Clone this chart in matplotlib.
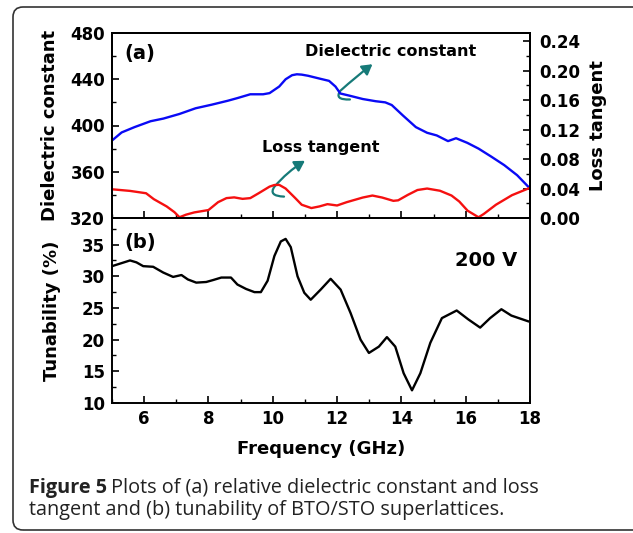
import numpy as np
import matplotlib
matplotlib.use("Agg")
import matplotlib.pyplot as plt
from matplotlib.patches import FancyArrowPatch, FancyBboxPatch
from matplotlib.path import Path
from matplotlib.ticker import MultipleLocator, FormatStrFormatter

# (a) dielectric constant, left axis
freq_eps = [5.0, 5.3, 5.7, 6.2, 6.6, 7.1, 7.6, 8.1, 8.6, 8.9, 9.3, 9.7, 9.9,
            10.2, 10.4, 10.6, 10.75, 10.9, 11.1, 11.45, 11.75, 11.95, 12.1, 12.4, 12.8,
            13.2, 13.5, 13.7, 14.05, 14.45, 14.8, 15.1, 15.45, 15.7, 16.05,
            16.4, 16.8, 17.2, 17.6, 18.0]
eps = [387, 394, 398.6, 403.7, 406, 410, 414.9, 418, 421.4, 423.7, 427, 427,
       428, 433.7, 440.0, 443.5, 444.3, 444.0, 443, 440.6, 438.6, 433.7, 427.7, 425.7, 422.9,
       421, 420, 417.7, 408.6, 398.6, 393.7, 391.4, 386.5, 389, 385,
       380, 373, 365.7, 357, 345.5]

# (a) loss tangent, right axis
freq_tan = [5.0, 5.56, 6.06, 6.3, 6.7, 6.94, 7.1, 7.3, 7.56, 8.0, 8.3, 8.56,
            8.8, 9.06, 9.3, 9.56, 9.9, 10.05, 10.2, 10.4, 10.7, 10.9, 11.2, 11.45,
            11.7, 12.0, 12.3, 12.8, 13.1, 13.4, 13.75, 13.9, 14.2, 14.5, 14.8,
            15.2, 15.56, 15.8, 16.06, 16.4, 16.56, 16.94, 17.44, 18.0]
loss = [0.039, 0.0368, 0.0336, 0.0256, 0.0157, 0.008, 0.001, 0.0045, 0.0076,
        0.0108, 0.0215, 0.027, 0.028, 0.026, 0.027, 0.0336, 0.0426, 0.0448, 0.045,
        0.040, 0.027, 0.018, 0.0135, 0.0157, 0.0188, 0.017, 0.0215, 0.0278,
        0.0305, 0.0278, 0.0233, 0.024, 0.0314, 0.038, 0.040, 0.037, 0.0305,
        0.0224, 0.0099, 0.001, 0.0054, 0.018, 0.031, 0.041]

# (b) tunability at 200 V
freq_tun = [5.0, 5.25, 5.56, 5.76, 5.97, 6.28, 6.59, 6.9, 7.16, 7.36, 7.62,
            7.93, 8.14, 8.4, 8.7, 8.9, 9.17, 9.43, 9.63, 9.84, 10.05, 10.25, 10.4,
            10.56, 10.77, 10.98, 11.18, 11.49, 11.8, 12.11, 12.42, 12.73,
            12.99, 13.3, 13.55, 13.81, 14.07, 14.33, 14.59, 14.9, 15.26,
            15.72, 16.08, 16.45, 16.76, 17.11, 17.42, 17.94]
tun = [31.6, 32.0, 32.5, 32.2, 31.6, 31.5, 30.6, 29.9, 30.2, 29.5, 29.0,
       29.1, 29.4, 29.8, 29.8, 28.7, 28.0, 27.5, 27.5, 29.3, 33.2, 35.5, 35.9,
       34.6, 30.0, 27.4, 26.3, 27.9, 29.6, 27.9, 24.2, 20.0,
       17.9, 18.9, 20.4, 18.9, 14.7, 12.0, 14.7, 19.5, 23.4,
       24.6, 23.2, 21.9, 23.4, 24.8, 23.8, 22.9]

plt.rcParams['font.family'] = ['DejaVu Sans']
plt.rcParams['font.weight'] = 'bold'
plt.rcParams['axes.linewidth'] = 1.4

fig = plt.figure(figsize=(6.33, 5.33), dpi=100)
W, H = 633, 533

def frac(l, t, r, b):
    return [l / W, 1 - b / H, (r - l) / W, (b - t) / H]

ax_a = fig.add_axes(frac(112, 33, 530, 218))
ax_b = fig.add_axes(frac(112, 218, 530, 403), sharex=ax_a)
ax_r = ax_a.twinx()

ax_a.plot(freq_eps, eps, color='#0a0af5', lw=1.7)
ax_r.plot(freq_tan, loss, color='#f51010', lw=1.7)
ax_b.plot(freq_tun, tun, color='black', lw=1.7)

ax_a.set_xlim(5, 18)
ax_a.set_ylim(320, 480)
ax_r.set_ylim(0, 0.2512)
ax_b.set_ylim(10, 39.2)

ax_a.yaxis.set_major_locator(MultipleLocator(40))
ax_a.yaxis.set_minor_locator(MultipleLocator(20))
ax_r.yaxis.set_major_locator(MultipleLocator(0.04))
ax_r.yaxis.set_minor_locator(MultipleLocator(0.02))
ax_r.yaxis.set_major_formatter(FormatStrFormatter('%.2f'))
ax_b.yaxis.set_major_locator(MultipleLocator(5))
ax_b.yaxis.set_minor_locator(MultipleLocator(2.5))
ax_b.xaxis.set_major_locator(MultipleLocator(2))
ax_b.xaxis.set_minor_locator(MultipleLocator(1))

for ax in (ax_a, ax_b, ax_r):
    ax.tick_params(which='major', direction='in', length=5, width=1.2,
                   labelsize=12, pad=5)
    ax.tick_params(which='minor', direction='in', length=3, width=1.0)
ax_r.tick_params(axis='y', which='major', pad=7)
ax_a.tick_params(axis='x', which='both', labelbottom=False)
ax_b.tick_params(axis='x', which='major', pad=5)

ax_a.set_ylabel('Dielectric constant', fontsize=13, fontweight='bold', labelpad=8)
ax_r.set_ylabel('Loss tangent', fontsize=13, fontweight='bold', labelpad=6)
ax_b.set_ylabel('Tunability (%)', fontsize=13, fontweight='bold', labelpad=15)
ax_b.set_xlabel('Frequency (GHz)', fontsize=13, fontweight='bold', labelpad=9)

ax_a.text(0.03, 0.89, '(a)', transform=ax_a.transAxes, fontsize=14,
          fontweight='bold', va='center')
ax_b.text(0.03, 0.865, '(b)', transform=ax_b.transAxes, fontsize=14,
          fontweight='bold', va='center')
ax_b.text(0.894, 0.77, '200 V', transform=ax_b.transAxes, fontsize=14,
          fontweight='bold', ha='center', va='center')

ax_a.text(13.65, 463.6, 'Dielectric constant', fontsize=11.5, fontweight='bold',
          ha='center', va='center')
ax_a.text(11.5, 381.4, 'Loss tangent', fontsize=11.5, fontweight='bold',
          ha='center', va='center')

teal = '#167a78'
hooks = [
    [(12.4, 422.5), (11.9, 422.0), (12.1, 430.0), (12.6, 442.5), (13.1, 453.0)],
    [(10.35, 338.5), (9.85, 339.0), (10.05, 347.0), (10.45, 360.0), (11.0, 369.5)],
]
for pts in hooks:
    codes = [Path.MOVETO, Path.CURVE3, Path.CURVE3, Path.CURVE3, Path.CURVE3]
    arr = FancyArrowPatch(path=Path(pts, codes),
                          arrowstyle='-|>,head_length=6,head_width=3.5',
                          color=teal, lw=1.6, transform=ax_a.transData)
    ax_a.add_patch(arr)

# frame around figure
frame = FancyBboxPatch((13, 3), 700, 523, boxstyle='round,pad=0,rounding_size=10',
                       transform=None, fill=False, ec='#333333', lw=1.2)
fig.patches.append(frame)

# caption
cap_font = ['Open Sans', 'DejaVu Sans']
t1 = fig.text(29 / W, 1 - 493 / H, 'Figure 5', family=cap_font, fontsize=14.3,
              fontweight='bold', color='#222222', va='baseline')
fig.canvas.draw()
bb = t1.get_window_extent()
fig.text((bb.x1 + 4) / W, 1 - 493 / H,
         'Plots of (a) relative dielectric constant and loss', family=cap_font,
         fontsize=14.3, fontweight='normal', color='#222222', va='baseline')
fig.text(29 / W, 1 - 515 / H,
         'tangent and (b) tunability of BTO/STO superlattices.', family=cap_font,
         fontsize=14.3, fontweight='normal', color='#222222', va='baseline')

fig.savefig('out.png', dpi=100)
